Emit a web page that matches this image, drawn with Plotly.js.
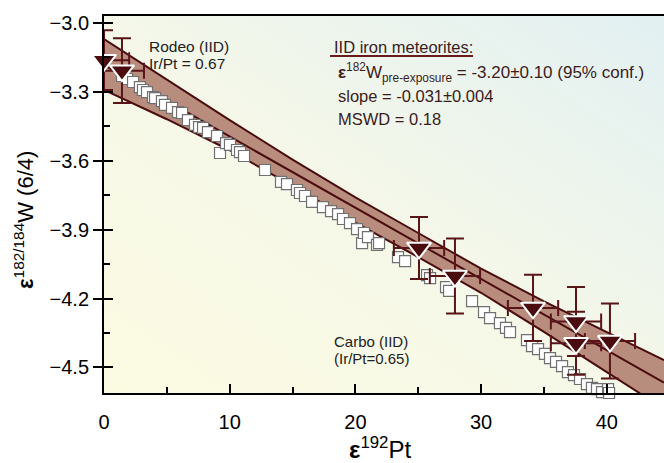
<!DOCTYPE html>
<html>
<head>
<meta charset="utf-8">
<script src="https://cdn.plot.ly/plotly-3.0.1.min.js"></script>
<style>
html,body{margin:0;padding:0;background:#fff;}
#chart{width:664px;height:463px;}
</style>
</head>
<body>
<div id="chart"></div>
<script>
// ---- data ----
const sqX = [1.43,1.83,2.31,2.86,3.10,3.42,3.90,4.06,4.61,4.85,5.41,5.89,6.21,6.68,7.24,7.56,7.88,8.27,8.99,9.23,9.71,10.02,10.58,10.82,11.14,12.81,14.08,14.56,15.35,15.59,15.99,16.55,17.42,18.06,18.62,19.01,19.57,20.13,20.53,20.68,21.00,21.72,21.88,23.39,23.95,25.70,25.94,27.21,27.45,29.28,30.23,30.71,31.50,31.98,32.30,33.65,34.05,34.53,35.08,35.48,35.96,36.44,36.91,37.39,37.87,38.42,38.82,39.22,39.62,40.10,40.18];
const sqY = [-3.232,-3.245,-3.258,-3.280,-3.293,-3.302,-3.324,-3.328,-3.341,-3.358,-3.371,-3.389,-3.393,-3.424,-3.445,-3.454,-3.458,-3.476,-3.493,-3.567,-3.524,-3.532,-3.554,-3.563,-3.580,-3.641,-3.693,-3.702,-3.728,-3.741,-3.754,-3.780,-3.802,-3.820,-3.833,-3.854,-3.872,-3.898,-3.959,-3.915,-3.933,-3.967,-3.959,-4.020,-4.037,-4.098,-4.111,-4.150,-4.167,-4.211,-4.259,-4.285,-4.307,-4.328,-4.346,-4.381,-4.407,-4.420,-4.441,-4.459,-4.476,-4.494,-4.520,-4.533,-4.550,-4.572,-4.589,-4.594,-4.607,-4.594,-4.611];

const triX = [0.0, 1.43, 25.06, 27.92, 34.13, 37.55, 37.55, 40.25];
const triY = [-3.163, -3.209, -3.980, -4.102, -4.241, -4.300, -4.395, -4.385];
const triXErr = [2.0, 1.75, 2.0, 2.0, 2.0, 2.0, 2.0, 2.0];
const triYErr = [0.13, 0.141, 0.135, 0.163, 0.144, 0.15, 0.137, 0.163];

const bandX = [0, 5, 10, 15, 20, 25, 30, 35, 40, 44.55];
const bandUpper = [-3.071, -3.248, -3.424, -3.596, -3.760, -3.915, -4.070, -4.212, -4.345, -4.468];
const bandLower = [-3.293, -3.420, -3.555, -3.710, -3.870, -4.020, -4.175, -4.345, -4.520, -4.680];
const fitX = [0, 44.55];
const fitY = [-3.185, -4.566];

const xTickVals = [0, 10, 20, 30, 40];
const xTickText = ['0', '10', '20', '30', '40'];
const yTickVals = [-3.0, -3.3, -3.6, -3.9, -4.2, -4.5];
const yTickText = ['\u22123.0', '\u22123.3', '\u22123.6', '\u22123.9', '\u22124.2', '\u22124.5'];

// ---- styles ----
const MAROON = '#4a0c0e';
const BAND = '#b98d7e';
const FONT = 'Liberation Sans, Arial, Helvetica, sans-serif';
const TXT = '#3b1c1c';

const bgSvg = "<svg xmlns='http://www.w3.org/2000/svg' width='560' height='377' preserveAspectRatio='none'>" +
  "<defs><linearGradient id='g' x1='0' y1='1' x2='1' y2='0'>" +
  "<stop offset='0' stop-color='#fcfbe2'/><stop offset='0.45' stop-color='#f6f8e8'/><stop offset='1' stop-color='#e2f0f2'/>" +
  "</linearGradient></defs><rect width='560' height='377' fill='url(#g)'/></svg>";
const bgSrc = 'data:image/svg+xml;charset=utf-8,' + encodeURIComponent(bgSvg);

const traces = [
  {x: bandX, y: bandLower, mode: 'lines', line: {color: MAROON, width: 2}, hoverinfo: 'skip', showlegend: false},
  {x: bandX, y: bandUpper, mode: 'lines', fill: 'tonexty', fillcolor: BAND, line: {color: MAROON, width: 2}, hoverinfo: 'skip', showlegend: false},
  {x: fitX, y: fitY, mode: 'lines', line: {color: MAROON, width: 2}, showlegend: false},
  {x: sqX, y: sqY, mode: 'markers', cliponaxis: false, showlegend: false,
   marker: {symbol: 'square', size: 11, color: '#ffffff', line: {color: '#707070', width: 1.2}}},
  {x: triX, y: triY, mode: 'markers', cliponaxis: false, showlegend: false,
   marker: {symbol: 'triangle-down', size: 21, color: MAROON, line: {color: '#ffffff', width: 2}},
   error_y: {type: 'data', array: triYErr, visible: true, color: '#5a1518', thickness: 2, width: 9},
   error_x: {type: 'data', array: triXErr, visible: true, color: '#5a1518', thickness: 2, width: 8}}
];

const ann = (text, x, y, size, color, extra) => Object.assign({
  text: text, x: x, y: y, xref: 'paper', yref: 'paper', showarrow: false,
  xanchor: 'left', yanchor: 'middle', align: 'left',
  font: {family: FONT, size: size, color: color}
}, extra || {});

const layout = {
  width: 664, height: 463,
  margin: {l: 104, r: 0, t: 16, b: 70},
  paper_bgcolor: '#ffffff', plot_bgcolor: '#ffffff',
  font: {family: FONT, color: '#000'},
  showlegend: false,
  images: [{source: bgSrc, xref: 'paper', yref: 'paper', x: 0, y: 1, sizex: 1, sizey: 1,
            sizing: 'stretch', xanchor: 'left', yanchor: 'top', layer: 'below'}],
  xaxis: {
    range: [0, 44.55], showgrid: false, zeroline: false,
    showline: true, linecolor: '#000', linewidth: 2, mirror: true,
    ticks: 'inside', ticklen: 9, tickwidth: 2, tickcolor: '#000',
    tickvals: xTickVals, ticktext: xTickText, ticklabelstandoff: 10,
    tickfont: {family: FONT, size: 20, color: '#000'},
    minor: {ticks: 'inside', ticklen: 6, tickwidth: 2, tickcolor: '#000', dtick: 5, showgrid: false}
  },
  yaxis: {
    range: [-4.611, -2.971], showgrid: false, zeroline: false,
    showline: true, linecolor: '#000', linewidth: 2,
    ticks: 'outside', ticklen: 9, tickwidth: 2, tickcolor: '#000',
    tickvals: yTickVals, ticktext: yTickText,
    tickfont: {family: FONT, size: 20, color: '#000'},
    minor: {ticks: 'inside', ticklen: 6, tickwidth: 2, tickcolor: '#000', dtick: 0.15, tick0: -3.0, showgrid: false}
  },
  yaxis2: {
    range: [-4.611, -2.971], overlaying: 'y', side: 'left', showgrid: false, zeroline: false,
    showline: false, ticks: 'inside', ticklen: 9, tickwidth: 2, tickcolor: '#000',
    tickvals: yTickVals, showticklabels: false
  },
  shapes: [
    {type: 'line', xref: 'paper', yref: 'paper', x0: 0.4036, x1: 0.659, y0: 0.894, y1: 0.894,
     line: {color: '#6a1a1c', width: 2}}
  ],
  annotations: [
    ann('Rodeo (IID)', 0.0768, 0.918, 15.5, '#222'),
    ann('Ir/Pt = 0.67', 0.0768, 0.875, 15.5, '#222'),
    ann('IID iron meteorites:', 0.407, 0.918, 16.5, TXT),
    ann('<b>ε</b><sup>182</sup>W<sub>pre-exposure</sub> = -3.20±0.10 (95% conf.)', 0.4143, 0.851, 17, TXT),
    ann('slope = -0.031±0.004', 0.4143, 0.788, 16.5, TXT),
    ann('MSWD = 0.18', 0.4143, 0.727, 16.5, TXT),
    ann('Carbo (IID)', 0.407, 0.1353, 15, '#222'),
    ann('(Ir/Pt=0.65)', 0.407, 0.0928, 15, '#222'),
    ann('<b>ε</b><sup>192</sup>Pt', 0.493, -0.146, 24, '#000', {xanchor: 'center'}),
    ann('<b>ε</b><sup>182/184</sup>W (6/4)', -0.143, 0.459, 22, '#000', {xanchor: 'center', textangle: -90})
  ]
};

// invisible trace that activates the overlay axis carrying the inner halves of the major y ticks
traces.push({x: [0], y: [-3.0], yaxis: 'y2', mode: 'markers', marker: {opacity: 0}, hoverinfo: 'skip', showlegend: false});

Plotly.newPlot('chart', traces, layout, {displayModeBar: false, staticPlot: true});
</script>
</body>
</html>
